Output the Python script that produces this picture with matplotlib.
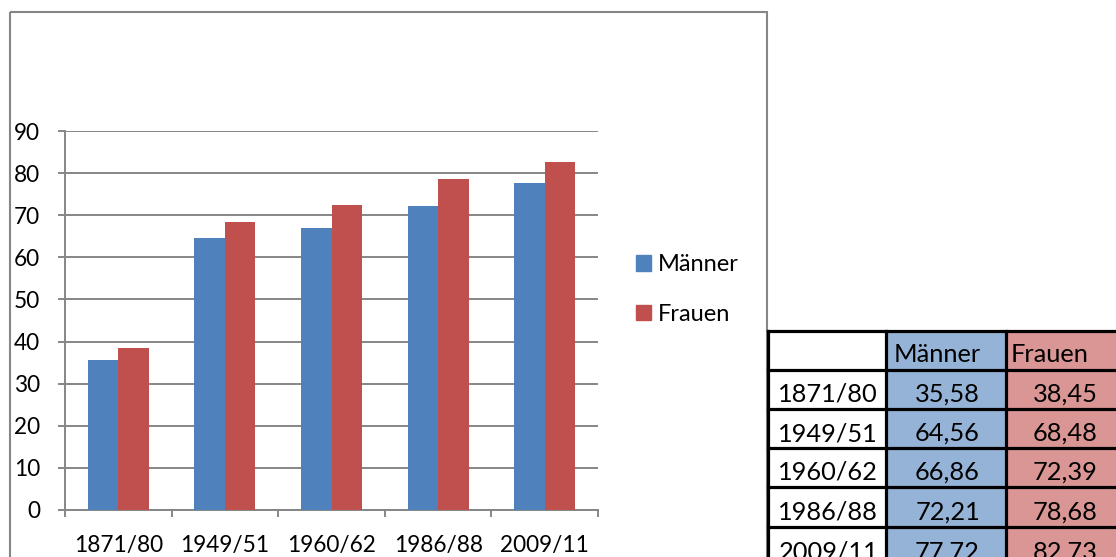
import matplotlib
matplotlib.use("Agg")
import matplotlib.pyplot as plt
from matplotlib.patches import Rectangle, Patch
import numpy as np

categories = ["1871/80", "1949/51", "1960/62", "1986/88", "2009/11"]
maenner = [35.58, 64.56, 66.86, 72.21, 77.72]
frauen = [38.45, 68.48, 72.39, 78.68, 82.73]
series_names = ["Männer", "Frauen"]
y_ticks = [0, 10, 20, 30, 40, 50, 60, 70, 80, 90]

BLUE = "#4F81BD"
RED = "#C0504D"
BLUE_L = "#95B3D7"
RED_L = "#DA9694"
GRID = "#868686"

plt.rcParams['font.family'] = ['Lato', 'DejaVu Sans']

W, H = 1116, 557
fig = plt.figure(figsize=(W / 100, H / 100), dpi=100)

# overlay axes in pixel coordinates
ov = fig.add_axes([0, 0, 1, 1])
ov.set_xlim(0, W)
ov.set_ylim(H, 0)
ov.axis("off")
ov.set_zorder(0)

# chart border
ov.add_patch(Rectangle((10, 12), 757, 600, fill=False, edgecolor=GRID, lw=1.5))

# main axes
x0, x1 = 65, 598
y0, y1 = 510, 131
ax = fig.add_axes([x0 / W, 1 - y0 / H, (x1 - x0) / W, (y0 - y1) / H])
ax.set_zorder(1)
ax.patch.set_alpha(0)
n = len(categories)
x = np.arange(n)
bw = 0.286
ax.bar(x - bw / 2, maenner, bw, color=BLUE, zorder=3)
ax.bar(x + bw / 2, frauen, bw, color=RED, zorder=3)
ax.set_xlim(-0.5, n - 0.5)
ax.set_ylim(0, 90)
ax.set_yticks(y_ticks)
ax.set_yticklabels([str(v) for v in y_ticks], fontsize=16.3)
ax.yaxis.grid(True, color=GRID, lw=1.4, zorder=0)
ax.set_axisbelow(True)
for s in ["top", "right"]:
    ax.spines[s].set_visible(False)
for s in ["left", "bottom"]:
    ax.spines[s].set_color(GRID)
    ax.spines[s].set_linewidth(1.4)
ax.tick_params(axis="y", length=5, color=GRID, width=1.4, pad=13)
ax.set_xticks(np.arange(n + 1) - 0.5)
ax.set_xticklabels([])
ax.tick_params(axis="x", which="major", length=5, color=GRID, width=1.4)
ax.set_xticks(x, minor=True)
ax.set_xticklabels(categories, minor=True, fontsize=16.3)
ax.tick_params(axis="x", which="minor", length=0, pad=18)

# legend
handles = [Patch(color=BLUE), Patch(color=RED)]
fig.legend(handles, series_names, loc="upper left",
           bbox_to_anchor=(636 / W, 1 - 254 / H), frameon=False,
           fontsize=17, handlelength=0.64, handleheight=0.64,
           handletextpad=0.3, labelspacing=1.22, borderaxespad=0, borderpad=0)

# table
cols = [768, 886, 1006, 1125]
rows = [331, 370, 409, 448, 487, 527, 567]
ov.add_patch(Rectangle((cols[1], rows[0]), cols[2] - cols[1], rows[-1] - rows[0], color=BLUE_L, lw=0))
ov.add_patch(Rectangle((cols[2], rows[0]), cols[3] - cols[2], rows[-1] - rows[0], color=RED_L, lw=0))
for r in rows:
    ov.plot([cols[0], cols[-1]], [r, r], color="black", lw=2.3)
for c in cols:
    ov.plot([c, c], [rows[0], rows[-1]], color="black", lw=2.3)
ts = 18.3
ov.text(cols[1] + 8, rows[1] - 8, series_names[0], fontsize=ts, va="baseline", ha="left")
ov.text(cols[2] + 5, rows[1] - 8, series_names[1], fontsize=ts, va="baseline", ha="left")
for i, cat in enumerate(categories):
    yb = rows[i + 2] - 7
    ov.text(cols[1] - 8, yb, cat, fontsize=ts, va="baseline", ha="right")
    ov.text(cols[2] - 26, yb, f"{maenner[i]:.2f}".replace(".", ","), fontsize=ts, va="baseline", ha="right")
    ov.text(1098, yb, f"{frauen[i]:.2f}".replace(".", ","), fontsize=ts, va="baseline", ha="right")

fig.savefig("out.png", dpi=100)
